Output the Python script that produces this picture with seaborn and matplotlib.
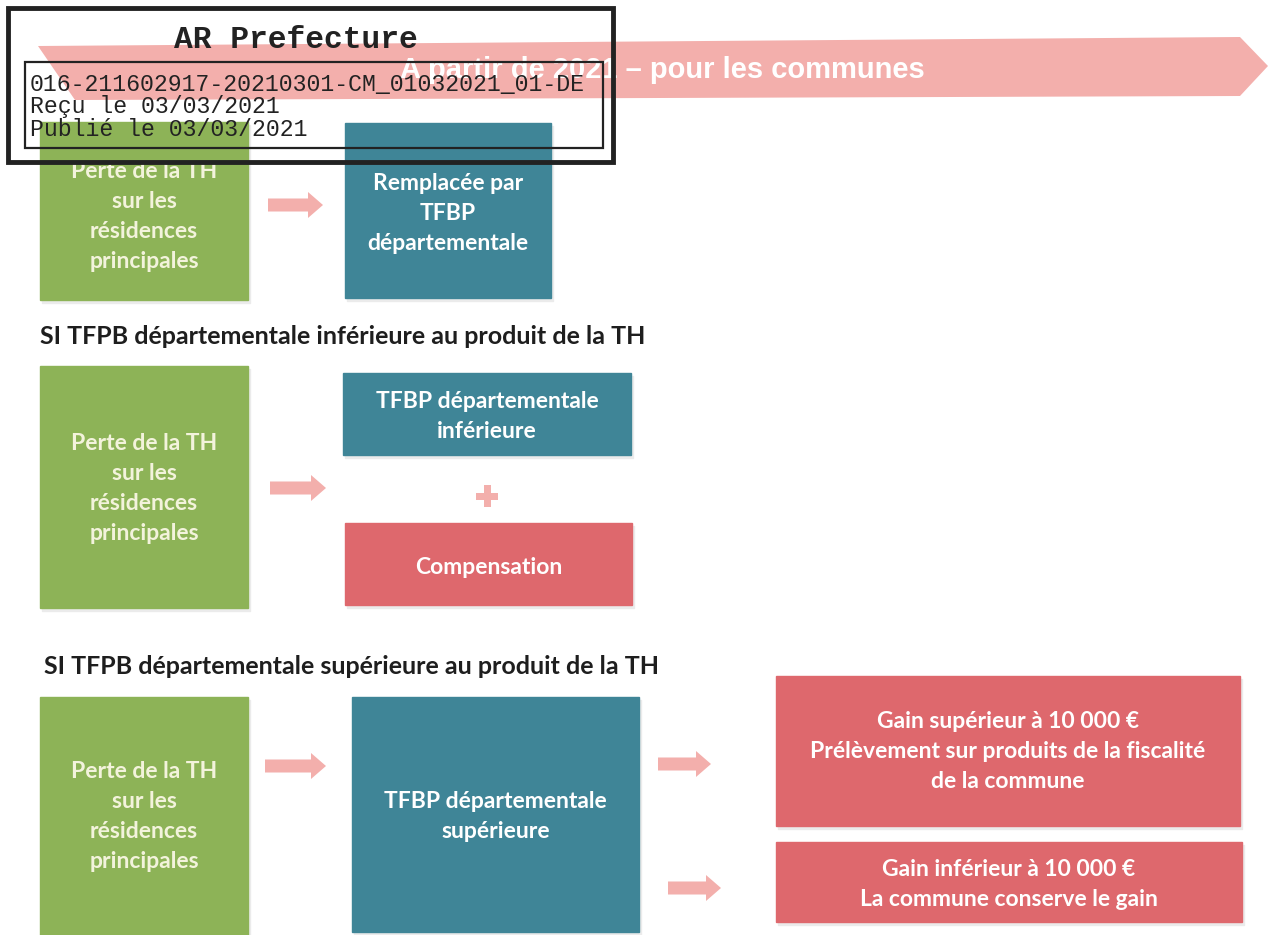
import seaborn as sns
import matplotlib.pyplot as plt
from matplotlib.patches import Rectangle, FancyArrow, Polygon

# texts of the diagram
banner_text = "A partir de 2021 – pour les communes"
stamp_title = "AR Prefecture"
stamp_lines = ["016-211602917-20210301-CM_01032021_01-DE",
               "Reçu le 03/03/2021",
               "Publié le 03/03/2021"]
perte_lines = ["Perte de la TH", "sur les", "résidences", "principales"]
headings = ["SI TFPB départementale inférieure au produit de la TH",
            "SI TFPB départementale supérieure au produit de la TH"]
cas1_lines = ["Remplacée par", "TFBP", "départementale"]
cas2_top = ["TFBP départementale", "inférieure"]
cas2_bottom = ["Compensation"]
cas3_lines = ["TFBP départementale", "supérieure"]
gain_sup = ["Gain supérieur à 10 000 €",
            "Prélèvement sur produits de la fiscalité",
            "de la commune"]
gain_inf = ["Gain inférieur à 10 000 €", "La commune conserve le gain"]

GREEN = "#8db357"
TEAL = "#3f8597"
RED = "#de686d"
PINK = "#f3afac"
CREAM = "#f3f3dc"

sns.set_theme(style="white")
plt.rcParams['font.family'] = ['Lato', 'DejaVu Sans']

fig = plt.figure(figsize=(12.71, 9.35), dpi=100)
ax = fig.add_axes([0, 0, 1, 1])
ax.set_xlim(0, 1271)
ax.set_ylim(935, 0)
ax.axis('off')


def box(x0, y0, x1, y1, color, lines, cy, gap=30, txtcolor='white', size=16.5):
    # light drop shadow then the coloured block
    ax.add_patch(Rectangle((x0 + 2, y0 + 3), x1 - x0, y1 - y0, color='#ebebeb', zorder=1))
    ax.add_patch(Rectangle((x0, y0), x1 - x0, y1 - y0, color=color, zorder=2))
    cx = (x0 + x1) / 2
    start = cy - gap * (len(lines) - 1) / 2
    for i, line in enumerate(lines):
        ax.text(cx, start + i * gap, line, ha='center', va='center', color=txtcolor,
                fontsize=size, fontweight='bold', zorder=3)


def arrow(x0, x1, y):
    ax.add_patch(FancyArrow(x0, y, x1 - x0, 0, width=13, head_width=26, head_length=15,
                            length_includes_head=True, color=PINK, lw=0, zorder=2))


# banner
ax.add_patch(Polygon([(38, 46), (1240, 37), (1268, 66), (1240, 96), (75, 100)],
                     closed=True, color=PINK, lw=0, zorder=1))
ax.text(662, 70, banner_text, ha='center', va='center', color='white', fontsize=21,
        fontweight='bold', family='Liberation Sans', zorder=2)

# section 1
box(40, 122, 248, 300, GREEN, perte_lines, 216, txtcolor=CREAM)
arrow(268, 323, 205)
box(345, 123, 551, 298, TEAL, cas1_lines, 214)

# section 2
ax.text(40, 337, headings[0], ha='left', va='center', color='#1e1e1e', fontsize=18,
        fontweight='bold')
box(40, 366, 248, 608, GREEN, perte_lines, 488, txtcolor=CREAM)
arrow(270, 326, 488)
box(343, 373, 631, 455, TEAL, cas2_top, 416)
ax.add_patch(Rectangle((476, 493), 22, 7, color=PINK, lw=0, zorder=2))
ax.add_patch(Rectangle((483.5, 485), 7, 22, color=PINK, lw=0, zorder=2))
box(345, 523, 632, 605, RED, cas2_bottom, 567)

# section 3
ax.text(44, 667, headings[1], ha='left', va='center', color='#1e1e1e', fontsize=18,
        fontweight='bold')
box(40, 697, 248, 935, GREEN, perte_lines, 816, txtcolor=CREAM)
arrow(265, 326, 766)
box(352, 697, 639, 932, TEAL, cas3_lines, 817)
arrow(658, 711, 764)
arrow(668, 721, 888)
box(776, 676, 1240, 826, RED, gain_sup, 752)
box(776, 842, 1242, 922, RED, gain_inf, 885)

# AR stamp
ax.add_patch(Rectangle((8, 8), 605, 154, fill=False, ec='#222222', lw=3.5, zorder=5))
ax.add_patch(Rectangle((25, 62), 578, 86, fill=False, ec='#222222', lw=1.6, zorder=5))
ax.text(296, 40, stamp_title, ha='center', va='center', color='#222222', fontsize=22.5,
        fontweight='bold', family='Liberation Mono', zorder=6)
for i, line in enumerate(stamp_lines):
    ax.text(30, 84 + i * 23, line, ha='left', va='center', color='#222222', fontsize=16.7,
            family='Liberation Mono', zorder=6)

fig.savefig('out.png', dpi=100)
